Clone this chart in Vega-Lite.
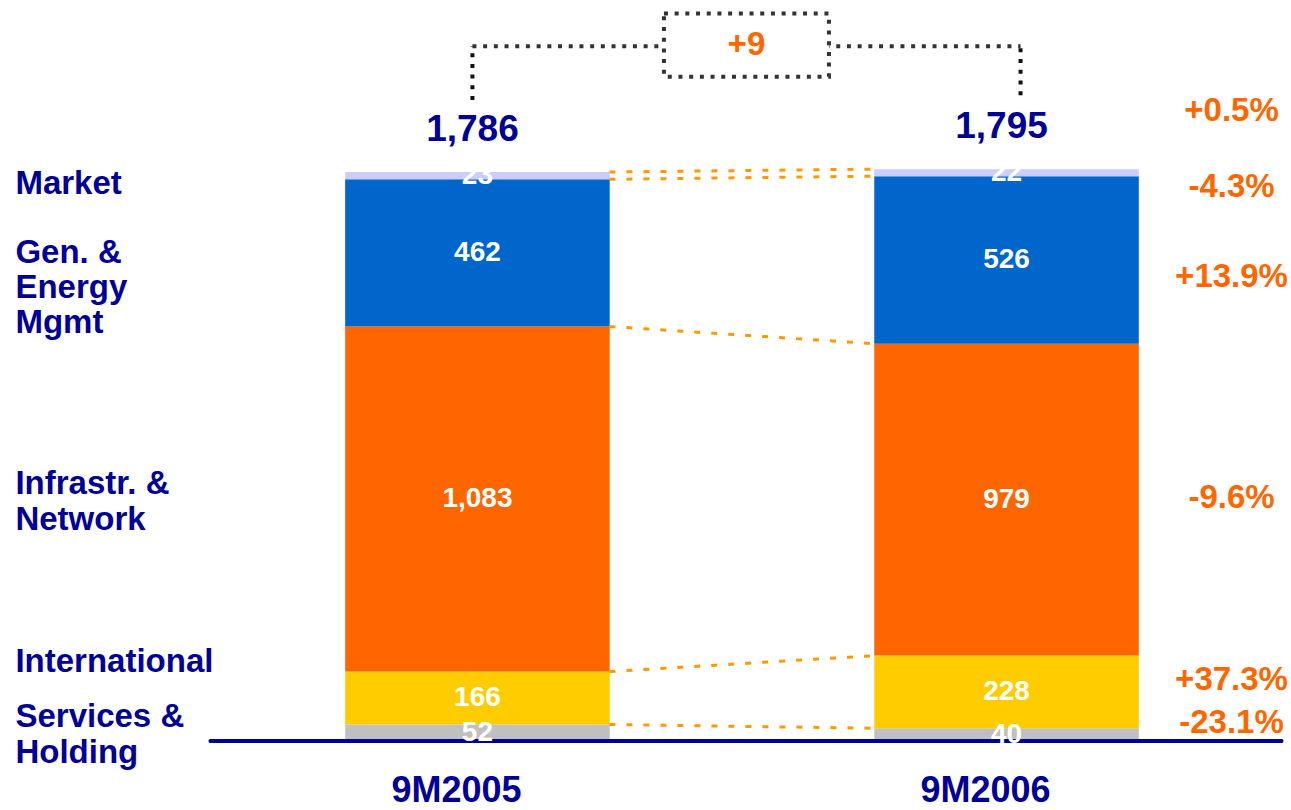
{
  "$schema": "https://vega.github.io/schema/vega-lite/v6.json",
  "width": 1291,
  "height": 810,
  "autosize": {"type": "none"},
  "padding": 0,
  "background": "white",
  "config": {
    "view": {"stroke": null},
    "text": {"font": "Liberation Sans", "fontWeight": "bold"}
  },
  "data": {
    "values": [
      {"period": "9M2005", "segment": "Services &\nHolding", "value": 52},
      {"period": "9M2005", "segment": "International", "value": 166},
      {"period": "9M2005", "segment": "Infrastr. &\nNetwork", "value": 1083},
      {"period": "9M2005", "segment": "Gen. &\nEnergy\nMgmt", "value": 462},
      {"period": "9M2005", "segment": "Market", "value": 23},
      {"period": "9M2006", "segment": "Services &\nHolding", "value": 40, "change": "-23.1%"},
      {"period": "9M2006", "segment": "International", "value": 228, "change": "+37.3%"},
      {"period": "9M2006", "segment": "Infrastr. &\nNetwork", "value": 979, "change": "-9.6%"},
      {"period": "9M2006", "segment": "Gen. &\nEnergy\nMgmt", "value": 526, "change": "+13.9%"},
      {"period": "9M2006", "segment": "Market", "value": 22, "change": "-4.3%"}
    ]
  },
  "transform": [
    {"calculate": "indexof(['Services &\\nHolding','International','Infrastr. &\\nNetwork','Gen. &\\nEnergy\\nMgmt','Market'], datum.segment)", "as": "ord"},
    {"stack": "value", "groupby": ["period"], "sort": [{"field": "ord", "order": "ascending"}], "as": ["v0", "v1"]},
    {"calculate": "(datum.v0 + datum.v1) / 2", "as": "mid"}
  ],
  "layer": [
    {
      "mark": {"type": "bar"},
      "encoding": {
        "x": {"field": "period", "type": "nominal", "scale": {"type": "band", "domain": ["9M2005", "9M2006"], "paddingInner": 0.5, "paddingOuter": 0.47, "align": 0.694}, "axis": null},
        "y": {"field": "v0", "type": "quantitative", "scale": {"domain": [-216.6, 2325.9], "nice": false, "zero": false}, "axis": null},
        "y2": {"field": "v1"},
        "color": {"field": "segment", "type": "nominal", "scale": {"domain": ["Services &\nHolding", "International", "Infrastr. &\nNetwork", "Gen. &\nEnergy\nMgmt", "Market"], "range": ["#C0C0C0", "#FFCC00", "#FF6600", "#0066CC", "#CCCCFF"]}, "legend": null}
      }
    },
    {
      "transform": [
        {"pivot": "period", "value": "v1", "groupby": ["segment"]},
        {"calculate": "datum['9M2005']", "as": "a"},
        {"calculate": "datum['9M2006']", "as": "b"}
      ],
      "mark": {"type": "rule", "color": "#FF9900", "strokeWidth": 3, "strokeDash": [6, 11], "xOffset": 132, "x2Offset": -132},
      "encoding": {
        "x": {"datum": "9M2005", "type": "nominal"},
        "x2": {"datum": "9M2006"},
        "y": {"field": "a", "type": "quantitative"},
        "y2": {"field": "b"}
      }
    },
    {
      "data": {"values": [{}]},
      "mark": {"type": "rule", "color": "#000099", "strokeWidth": 4, "strokeCap": "round", "xOffset": -267, "x2Offset": 275},
      "encoding": {
        "x": {"datum": "9M2005", "type": "nominal"},
        "x2": {"datum": "9M2006"},
        "y": {"datum": 0, "type": "quantitative"}
      }
    },
    {
      "mark": {"type": "text", "color": "white", "fontSize": 28, "baseline": "middle"},
      "encoding": {
        "x": {"field": "period", "type": "nominal"},
        "y": {"field": "mid", "type": "quantitative"},
        "text": {"field": "value", "type": "quantitative", "format": ","}
      }
    },
    {
      "transform": [{"filter": "datum.period == '9M2005' && datum.ord == 0"}],
      "mark": {"type": "text", "align": "left", "baseline": "middle", "dx": -462, "dy": -16, "fontSize": 33, "lineHeight": 36, "lineBreak": "\n", "color": "#000099"},
      "encoding": {
        "x": {"field": "period", "type": "nominal"},
        "y": {"field": "mid", "type": "quantitative"},
        "text": {"field": "segment"}
      }
    },
    {
      "transform": [{"filter": "datum.period == '9M2005' && datum.ord == 2"}],
      "mark": {"type": "text", "align": "left", "baseline": "middle", "dx": -462, "dy": -15, "fontSize": 33, "lineHeight": 36, "lineBreak": "\n", "color": "#000099"},
      "encoding": {
        "x": {"field": "period", "type": "nominal"},
        "y": {"field": "mid", "type": "quantitative"},
        "text": {"field": "segment"}
      }
    },
    {
      "transform": [{"filter": "datum.period == '9M2005' && datum.ord == 1"}],
      "mark": {"type": "text", "align": "left", "baseline": "middle", "dx": -462, "dy": -36, "fontSize": 33, "lineHeight": 36, "lineBreak": "\n", "color": "#000099"},
      "encoding": {
        "x": {"field": "period", "type": "nominal"},
        "y": {"field": "mid", "type": "quantitative"},
        "text": {"field": "segment"}
      }
    },
    {
      "transform": [{"filter": "datum.period == '9M2005' && datum.ord == 3"}],
      "mark": {"type": "text", "align": "left", "baseline": "middle", "dx": -462, "dy": 0, "fontSize": 33, "lineHeight": 35, "lineBreak": "\n", "color": "#000099"},
      "encoding": {
        "x": {"field": "period", "type": "nominal"},
        "y": {"field": "mid", "type": "quantitative"},
        "text": {"field": "segment"}
      }
    },
    {
      "transform": [{"filter": "datum.period == '9M2005' && datum.ord == 4"}],
      "mark": {"type": "text", "align": "left", "baseline": "middle", "dx": -462, "dy": 8, "fontSize": 33, "lineHeight": 36, "lineBreak": "\n", "color": "#000099"},
      "encoding": {
        "x": {"field": "period", "type": "nominal"},
        "y": {"field": "mid", "type": "quantitative"},
        "text": {"field": "segment"}
      }
    },
    {
      "transform": [{"filter": "datum.period == '9M2006' && datum.ord == 4"}],
      "mark": {"type": "text", "align": "center", "baseline": "middle", "dx": 225, "dy": 14, "fontSize": 33, "color": "#FF6600"},
      "encoding": {
        "x": {"field": "period", "type": "nominal"},
        "y": {"field": "mid", "type": "quantitative"},
        "text": {"field": "change"}
      }
    },
    {
      "transform": [{"filter": "datum.period == '9M2006' && datum.ord == 3"}],
      "mark": {"type": "text", "align": "center", "baseline": "middle", "dx": 225, "dy": 17, "fontSize": 33, "color": "#FF6600"},
      "encoding": {
        "x": {"field": "period", "type": "nominal"},
        "y": {"field": "mid", "type": "quantitative"},
        "text": {"field": "change"}
      }
    },
    {
      "transform": [{"filter": "datum.period == '9M2006' && datum.ord == 2"}],
      "mark": {"type": "text", "align": "center", "baseline": "middle", "dx": 225, "dy": -2, "fontSize": 33, "color": "#FF6600"},
      "encoding": {
        "x": {"field": "period", "type": "nominal"},
        "y": {"field": "mid", "type": "quantitative"},
        "text": {"field": "change"}
      }
    },
    {
      "transform": [{"filter": "datum.period == '9M2006' && datum.ord <= 1"}],
      "mark": {"type": "text", "align": "center", "baseline": "middle", "dx": 225, "dy": -12, "fontSize": 33, "color": "#FF6600"},
      "encoding": {
        "x": {"field": "period", "type": "nominal"},
        "y": {"field": "mid", "type": "quantitative"},
        "text": {"field": "change"}
      }
    },
    {
      "transform": [{"aggregate": [{"op": "sum", "field": "value", "as": "total"}], "groupby": ["period"]}],
      "layer": [
        {
          "mark": {"type": "text", "color": "#000099", "fontSize": 37, "baseline": "alphabetic", "dx": -5, "dy": -31},
          "encoding": {
            "x": {"field": "period", "type": "nominal"},
            "y": {"field": "total", "type": "quantitative"},
            "text": {"field": "total", "type": "quantitative", "format": ","}
          }
        },
        {
          "mark": {"type": "text", "color": "#000099", "fontSize": 36, "baseline": "alphabetic", "dx": -21, "dy": 61},
          "encoding": {
            "x": {"field": "period", "type": "nominal"},
            "y": {"datum": 0, "type": "quantitative"},
            "text": {"field": "period"}
          }
        },
        {
          "transform": [{"filter": "datum.period == '9M2006'"}],
          "mark": {"type": "text", "color": "#FF6600", "fontSize": 33, "baseline": "middle", "dx": 225, "dy": -58},
          "encoding": {
            "x": {"field": "period", "type": "nominal"},
            "y": {"field": "total", "type": "quantitative"},
            "text": {"value": "+0.5%"}
          }
        },
        {
          "transform": [{"filter": "datum.period == '9M2005'"}],
          "mark": {"type": "rule", "color": "#111111", "strokeWidth": 4, "strokeDash": [4, 6.7], "xOffset": -5, "x2Offset": -5, "yOffset": -72, "y2Offset": -126},
          "encoding": {
            "x": {"field": "period", "type": "nominal"},
            "y": {"field": "total", "type": "quantitative"},
            "y2": {"field": "total"}
          }
        },
        {
          "transform": [{"filter": "datum.period == '9M2006'"}],
          "mark": {"type": "rule", "color": "#111111", "strokeWidth": 4, "strokeDash": [4, 6.7], "xOffset": 14, "x2Offset": 14, "yOffset": -74, "y2Offset": -123},
          "encoding": {
            "x": {"field": "period", "type": "nominal"},
            "y": {"field": "total", "type": "quantitative"},
            "y2": {"field": "total"}
          }
        },
        {
          "transform": [{"filter": "datum.period == '9M2006'"}],
          "mark": {"type": "rule", "color": "#333333", "strokeWidth": 4, "strokeDash": [4, 6.7], "xOffset": -5, "x2Offset": 14, "yOffset": -123},
          "encoding": {
            "x": {"datum": "9M2005", "type": "nominal"},
            "x2": {"datum": "9M2006"},
            "y": {"field": "total", "type": "quantitative"}
          }
        },
        {
          "transform": [{"filter": "datum.period == '9M2006'"}],
          "mark": {"type": "point", "shape": "M-1,-0.382L1,-0.382L1,0.382L-1,0.382Z", "size": 27225, "filled": true, "fill": "white", "fillOpacity": 1, "opacity": 1, "stroke": "#333333", "strokeWidth": 4, "strokeDash": [4, 6.7], "xOffset": 269, "yOffset": -124},
          "encoding": {
            "x": {"datum": "9M2005", "type": "nominal"},
            "y": {"field": "total", "type": "quantitative"}
          }
        },
        {
          "transform": [{"filter": "datum.period == '9M2006'"}],
          "mark": {"type": "text", "color": "#FF6600", "fontSize": 33, "baseline": "middle", "dx": 269, "dy": -124},
          "encoding": {
            "x": {"datum": "9M2005", "type": "nominal"},
            "y": {"field": "total", "type": "quantitative"},
            "text": {"value": "+9"}
          }
        }
      ]
    }
  ]
}
